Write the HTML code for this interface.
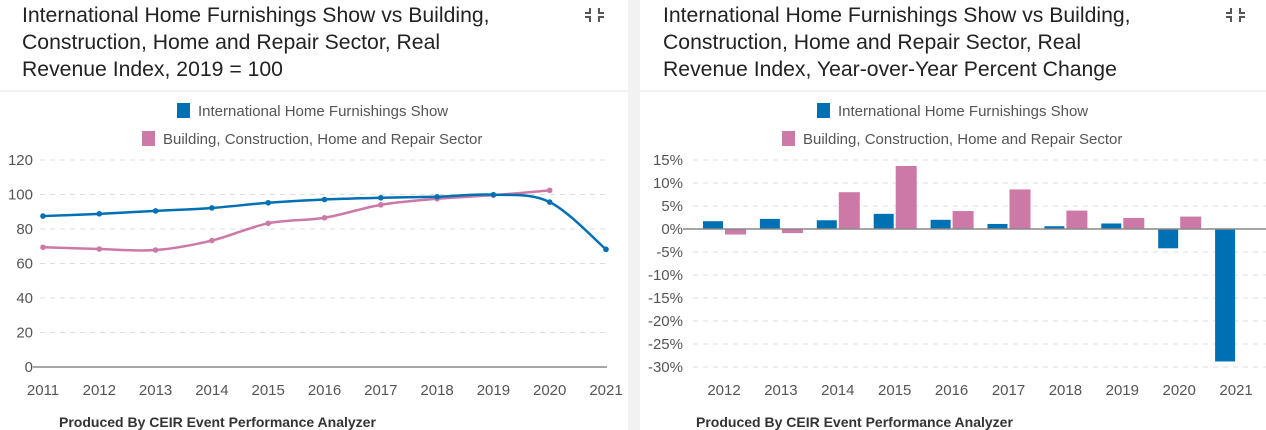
<!DOCTYPE html>
<html><head><meta charset="utf-8"><style>
body{margin:0;width:1266px;height:430px;overflow:hidden;background:#fff;font-family:"Liberation Sans",sans-serif}
svg{display:block}
</style></head><body>
<svg id="s" width="1266" height="430" xmlns="http://www.w3.org/2000/svg" font-family="Liberation Sans, sans-serif">
<rect x="628" y="0" width="12" height="430" fill="#f2f2f2"/>
<line x1="0" y1="91" x2="628" y2="91" stroke="#e3e3e3"/>
<line x1="640" y1="91" x2="1266" y2="91" stroke="#e3e3e3"/>
<g font-size="21.2" fill="#222">
<text x="22" y="22">International Home Furnishings Show vs Building,</text>
<text x="22" y="49">Construction, Home and Repair Sector, Real</text>
<text x="22" y="76">Revenue Index, 2019 = 100</text>
<text x="663" y="22">International Home Furnishings Show vs Building,</text>
<text x="663" y="49">Construction, Home and Repair Sector, Real</text>
<text x="663" y="76">Revenue Index, Year-over-Year Percent Change</text>
</g>
<g stroke="#555" stroke-width="2" fill="none">
<path d="M590 8v5h-5M599 8v5h5M590 22v-5h-5M599 22v-5h5"/>
<path d="M1231 8v5h-5M1240 8v5h5M1231 22v-5h-5M1240 22v-5h5"/>
</g>
<g font-size="15" fill="#555">
<rect x="177" y="103" width="13" height="15" fill="#0070b4"/><text x="198" y="116">International Home Furnishings Show</text>
<rect x="142" y="131" width="13" height="15" fill="#cd79a8"/><text x="163" y="144">Building, Construction, Home and Repair Sector</text>
<rect x="817" y="103" width="13" height="15" fill="#0070b4"/><text x="838" y="116">International Home Furnishings Show</text>
<rect x="782" y="131" width="13" height="15" fill="#cd79a8"/><text x="803" y="144">Building, Construction, Home and Repair Sector</text>
</g>
<g font-size="14" font-weight="bold" fill="#333">
<text x="59" y="427">Produced By CEIR Event Performance Analyzer</text>
<text x="696" y="427">Produced By CEIR Event Performance Analyzer</text>
</g>
<g id="g"></g>
</svg>
<script>
var g=document.getElementById('g'),h='';
function Y1(v){return 367-v*207/120}
for(var i=0;i<=6;i++){var v=i*20,y=Y1(v);
 if(i>0)h+='<line x1="40" x2="606" y1="'+y+'" y2="'+y+'" stroke="#ddd" stroke-dasharray="5,5"/>';
 h+='<text x="33" y="'+(y+5)+'" font-size="15" fill="#555" text-anchor="end">'+v+'</text>';}
h+='<line x1="33" x2="607" y1="367" y2="367" stroke="#888" stroke-width="1.5"/>';
for(var i=0;i<11;i++){h+='<text x="'+(43+i*56.3)+'" y="395" font-size="15" fill="#555" text-anchor="middle">'+(2011+i)+'</text>';}
function curve(vals,col){var p=vals.map(function(v,i){return [43+i*56.3,Y1(v)]});
 var d='M'+p[0][0]+' '+p[0][1];
 for(var i=0;i<p.length-1;i++){var a=p[i-1]||p[i],b=p[i],c=p[i+1],e=p[i+2]||c;
  d+=' C'+(b[0]+(c[0]-a[0])/6)+' '+(b[1]+(c[1]-a[1])/6)+' '+(c[0]-(e[0]-b[0])/6)+' '+(c[1]-(e[1]-b[1])/6)+' '+c[0]+' '+c[1];}
 var s='<path d="'+d+'" fill="none" stroke="'+col+'" stroke-width="2.5"/>';
 p.forEach(function(q){s+='<circle cx="'+q[0]+'" cy="'+q[1]+'" r="2.8" fill="'+col+'"/>'});return s;}
h+=curve([69.4,68.4,67.8,73.3,83.3,86.5,94,97.5,99.6,102.4],'#cd79a8');
h+=curve([87.5,88.8,90.5,92.2,95.2,97.1,98.1,98.7,99.9,95.6,68.2],'#0070b4');
function Y2(v){return 229-v*4.6}
for(var i=-6;i<=3;i++){var v=i*5,y=Y2(v);
 if(i!=0)h+='<line x1="693" x2="1266" y1="'+y+'" y2="'+y+'" stroke="#ddd" stroke-dasharray="5,5"/>';
 h+='<text x="683" y="'+(y+5)+'" font-size="15" fill="#555" text-anchor="end">'+v+'%</text>';}
var B=[1.7,2.2,1.9,3.3,2.0,1.1,0.6,1.2,-4.2,-28.8],P=[-1.2,-0.9,8.0,13.7,3.9,8.6,4.0,2.4,2.7];
for(var i=0;i<10;i++){var c=724+i*56.9;
 var v=B[i],y=Y2(Math.max(v,0)),hh=Math.abs(v)*4.6;
 h+='<rect x="'+(c-21)+'" y="'+y+'" width="20" height="'+hh+'" fill="#0070b4"/>';
 if(i<9){v=P[i];y=Y2(Math.max(v,0));hh=Math.abs(v)*4.6;
 h+='<rect x="'+(c+1)+'" y="'+y+'" width="21" height="'+hh+'" fill="#cd79a8"/>';}
 h+='<text x="'+c+'" y="395" font-size="15" fill="#555" text-anchor="middle">'+(2012+i)+'</text>';}
h+='<line x1="683" x2="1266" y1="229" y2="229" stroke="#888" stroke-width="1.5"/>';
g.innerHTML=h;
</script>
</body></html>
